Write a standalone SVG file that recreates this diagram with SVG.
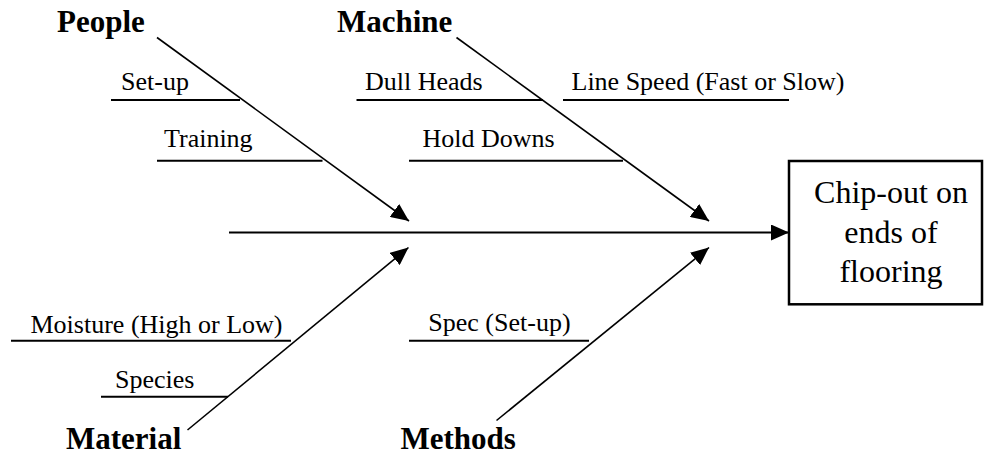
<svg xmlns="http://www.w3.org/2000/svg" width="985" height="456" viewBox="0 0 985 456">
<style>
text{font-family:"Liberation Serif","Times New Roman",Tinos,"DejaVu Serif",serif;fill:#000}
.h{font-weight:bold;font-size:31px}
.l{font-size:26px}
.b{font-size:32px;text-anchor:middle}
.sub{stroke:#000;stroke-width:2;fill:none}
.bone{stroke:#000;stroke-width:1.6;fill:none;marker-end:url(#ah)}
.spine{stroke:#000;stroke-width:2;fill:none;marker-end:url(#ah)}
</style>
<defs>
<marker id="ah" viewBox="0 0 18 16" refX="18" refY="8" markerWidth="18" markerHeight="16" markerUnits="userSpaceOnUse" orient="auto">
<path d="M0,0 L18,8 L0,16 z" fill="#000"/>
</marker>
</defs>
<rect width="985" height="456" fill="#fff"/>
<g id="connectors">
<line class="spine" x1="229" y1="232.5" x2="789" y2="232.5"/>
<line class="bone" x1="157" y1="37.5" x2="409" y2="221"/>
<line class="bone" x1="456.5" y1="37.5" x2="709" y2="221"/>
<line class="bone" x1="187.5" y1="430" x2="408.5" y2="247.5"/>
<line class="bone" x1="496.5" y1="420.5" x2="709" y2="247.5"/>
</g>
<g id="people">
<text class="h" x="57" y="32" font-family="Liberation Serif, serif">People</text>
<line class="sub" x1="111" y1="100" x2="240" y2="100"/>
<text class="l" x="121" y="90" font-family="Liberation Serif, serif">Set-up</text>
<line class="sub" x1="157" y1="160.7" x2="322.5" y2="160.7"/>
<text class="l" x="164" y="147" font-family="Liberation Serif, serif">Training</text>
</g>
<g id="machine">
<text class="h" x="337" y="32" font-family="Liberation Serif, serif">Machine</text>
<line class="sub" x1="356.5" y1="100" x2="543" y2="100"/>
<text class="l" x="365" y="90" font-family="Liberation Serif, serif">Dull Heads</text>
<line class="sub" x1="563" y1="100" x2="789" y2="100"/>
<text class="l" x="571.5" y="90" font-family="Liberation Serif, serif">Line Speed (Fast or Slow)</text>
<line class="sub" x1="409" y1="160.7" x2="623" y2="160.7"/>
<text class="l" x="422.5" y="147" font-family="Liberation Serif, serif">Hold Downs</text>
</g>
<g id="material">
<text class="h" x="66" y="449" font-family="Liberation Serif, serif">Material</text>
<line class="sub" x1="11" y1="340.7" x2="291" y2="340.7"/>
<text class="l" x="30.5" y="333" font-family="Liberation Serif, serif">Moisture (High or Low)</text>
<line class="sub" x1="101" y1="396.7" x2="228" y2="396.7"/>
<text class="l" x="115" y="388" font-family="Liberation Serif, serif">Species</text>
</g>
<g id="methods">
<text class="h" x="400.5" y="449" font-family="Liberation Serif, serif">Methods</text>
<line class="sub" x1="409" y1="340.7" x2="589" y2="340.7"/>
<text class="l" x="428.3" y="331" font-family="Liberation Serif, serif">Spec (Set-up)</text>
</g>
<g id="effect">
<rect x="789" y="161" width="193" height="143.3" fill="#fff" stroke="#000" stroke-width="2.5"/>
<text class="b" x="891" y="203" font-family="Liberation Serif, serif">Chip-out on</text>
<text class="b" x="891" y="242.5" font-family="Liberation Serif, serif">ends of</text>
<text class="b" x="891" y="282" font-family="Liberation Serif, serif">flooring</text>
</g>
</svg>
